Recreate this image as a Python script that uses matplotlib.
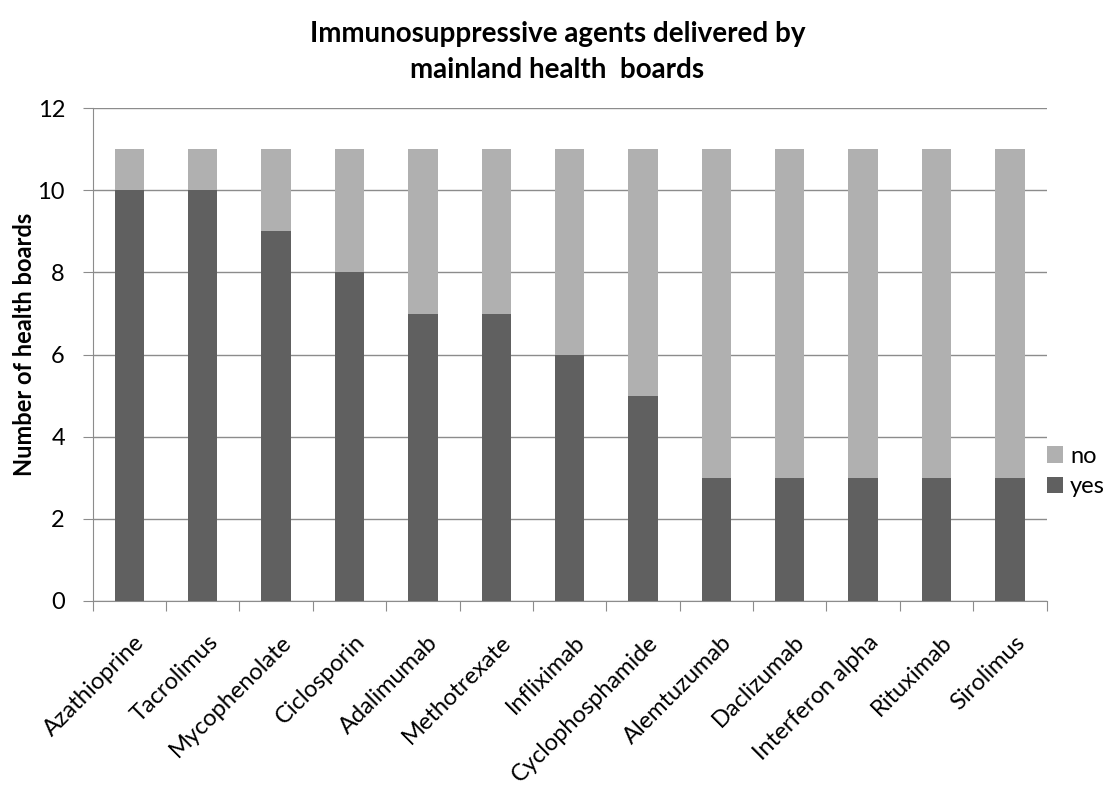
import matplotlib
matplotlib.use('Agg')
from matplotlib import pyplot as plt
import numpy as np

plt.rcParams['font.family'] = ['Lato', 'DejaVu Sans']

drugs = ['Azathioprine', 'Tacrolimus', 'Mycophenolate', 'Ciclosporin', 'Adalimumab',
         'Methotrexate', 'Infliximab', 'Cyclophosphamide', 'Alemtuzumab', 'Daclizumab',
         'Interferon alpha', 'Rituximab', 'Sirolimus']
yes = [10, 10, 9, 8, 7, 7, 6, 5, 3, 3, 3, 3, 3]
no = [1, 1, 2, 3, 4, 4, 5, 6, 8, 8, 8, 8, 8]

fig = plt.figure(figsize=(11.04, 7.96), dpi=100)
ax = fig.add_axes([0.084, 0.245, 0.864, 0.619])

x = np.arange(len(drugs))
ax.bar(x, yes, width=0.4, color='#606060', label='yes', zorder=3)
ax.bar(x, no, width=0.4, bottom=yes, color='#b0b0b0', label='no', zorder=3)

ax.set_xlim(-0.5, len(drugs) - 0.5)
ax.set_ylim(0, 12)
ax.set_yticks(range(0, 13, 2))
ax.yaxis.grid(True, color='#8c8c8c', lw=1, zorder=0)

# ticks between categories, labels under each bar
ax.set_xticks(np.arange(-0.5, len(drugs)), minor=False)
ax.set_xticklabels([])
ax.set_xticks(x + 0.06, minor=True)
ax.set_xticklabels(drugs, minor=True, rotation=45, ha='right', rotation_mode='anchor', fontsize=17)
ax.tick_params(axis='x', which='minor', length=0, pad=22)
ax.tick_params(axis='x', which='major', length=7, color='#8c8c8c')
ax.tick_params(axis='y', length=7, color='#8c8c8c', labelsize=17, pad=13)

for s in ['top', 'right']:
    ax.spines[s].set_visible(False)
for s in ['left', 'bottom']:
    ax.spines[s].set_color('#8c8c8c')

ax.set_ylabel('Number of health boards', fontsize=17, fontweight='bold', labelpad=-2)
ax.yaxis.set_label_coords(-0.06, 0.52)
fig.suptitle('Immunosuppressive agents delivered by\nmainland health  boards',
             x=0.505, y=0.973, fontsize=20, fontweight='bold', linespacing=1.45)

handles, labels = ax.get_legend_handles_labels()
fig.legend(handles[::-1], labels[::-1], loc='upper left', bbox_to_anchor=(0.948, 0.44),
           frameon=False, fontsize=17, handlelength=0.7, handleheight=0.7,
           handletextpad=0.3, labelspacing=0.4, borderaxespad=0, borderpad=0)

plt.savefig('out.png', dpi=100)
